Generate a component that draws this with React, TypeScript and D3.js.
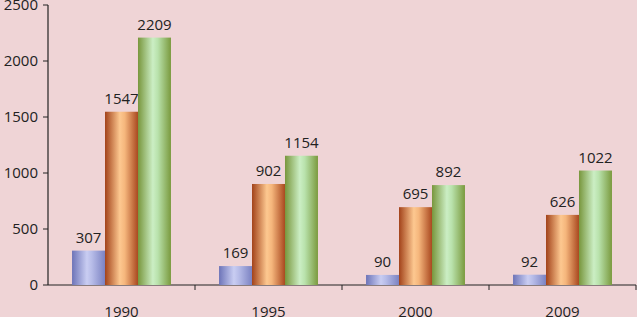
import React, { useEffect, useRef } from 'react';
import * as d3 from 'd3';

const years = ['1990', '1995', '2000', '2009'];
const seriesA = [307, 169, 90, 92];
const seriesB = [1547, 902, 695, 626];
const seriesC = [2209, 1154, 892, 1022];
const yTicks = [0, 500, 1000, 1500, 2000, 2500];

const gradients = [
  { id: 'gBlue', stops: ['#6d74b8', '#c9cdf2', '#b7bce8', '#7b82c2'] },
  { id: 'gOrange', stops: ['#a2421a', '#fdc890', '#f5b67c', '#a9481f'] },
  { id: 'gGreen', stops: ['#78963c', '#cbeec4', '#b9e2ac', '#7a9a3e'] },
];

const App: React.FC = () => {
  const svgRef = useRef<SVGSVGElement>(null);

  useEffect(() => {
    if (!svgRef.current) return;
    const svg = d3.select(svgRef.current);
    svg.selectAll('*').remove();

    const width = 637;
    const height = 317;
    const left = 48;
    const right = 636;
    const base = 285;
    const top = 5;

    const defs = svg.append('defs');
    gradients.forEach((g) => {
      const lg = defs.append('linearGradient').attr('id', g.id).attr('x1', '0').attr('x2', '1').attr('y1', '0').attr('y2', '0');
      const offs = [0, 0.45, 0.6, 1];
      g.stops.forEach((c, i) => lg.append('stop').attr('offset', offs[i]).attr('stop-color', c));
    });

    svg.append('rect').attr('width', width).attr('height', height).attr('fill', '#efd4d6');

    const x0 = d3.scaleBand().domain(years).range([left, right]).paddingInner(0.327).paddingOuter(0.1635);
    const x1 = d3.scaleBand().domain(['a', 'b', 'c']).range([0, x0.bandwidth()]);
    const y = d3.scaleLinear().domain([0, 2500]).range([base, top]);

    const font = "'Open Sans', 'Liberation Sans', sans-serif";
    const fs = 15;

    // y axis
    svg.append('line').attr('x1', left).attr('x2', left).attr('y1', top).attr('y2', base).attr('stroke', '#222').attr('stroke-width', 1.2);
    yTicks.forEach((t) => {
      svg.append('line').attr('x1', left - 5).attr('x2', left).attr('y1', y(t)).attr('y2', y(t)).attr('stroke', '#222');
      svg.append('text').attr('x', left - 10).attr('y', y(t) + 5).attr('text-anchor', 'end')
        .attr('font-family', font).attr('font-size', fs).attr('fill', '#222').text(t);
    });

    // x axis
    svg.append('line').attr('x1', left).attr('x2', right).attr('y1', base).attr('y2', base).attr('stroke', '#222').attr('stroke-width', 1.2);
    const step = x0.step();
    years.forEach((yr, i) => {
      const bx = left + step * (i + 1);
      svg.append('line').attr('x1', bx).attr('x2', bx).attr('y1', base).attr('y2', base + 5).attr('stroke', '#222');
      svg.append('text').attr('x', (x0(yr) as number) + x0.bandwidth() / 2).attr('y', 317).attr('text-anchor', 'middle')
        .attr('font-family', font).attr('font-size', fs).attr('fill', '#222').text(yr);
    });

    const series = [
      { key: 'a', values: seriesA, fill: 'url(#gBlue)' },
      { key: 'b', values: seriesB, fill: 'url(#gOrange)' },
      { key: 'c', values: seriesC, fill: 'url(#gGreen)' },
    ];

    series.forEach((s) => {
      const g = svg.append('g');
      g.selectAll('rect')
        .data(s.values)
        .enter()
        .append('rect')
        .attr('x', (_d, i) => (x0(years[i]) as number) + (x1(s.key) as number))
        .attr('y', (d) => y(d))
        .attr('width', x1.bandwidth())
        .attr('height', (d) => base - y(d))
        .attr('fill', s.fill);
      g.selectAll('text')
        .data(s.values)
        .enter()
        .append('text')
        .attr('x', (_d, i) => (x0(years[i]) as number) + (x1(s.key) as number) + x1.bandwidth() / 2)
        .attr('y', (d) => y(d) - 8)
        .attr('text-anchor', 'middle')
        .attr('font-family', font)
        .attr('font-size', fs)
        .attr('fill', '#222')
        .text((d) => d);
    });
  }, []);

  return (
    <svg
      ref={svgRef}
      width={637}
      height={317}
      style={{ position: 'absolute', left: 0, top: 0, display: 'block' }}
    />
  );
};

export default App;
